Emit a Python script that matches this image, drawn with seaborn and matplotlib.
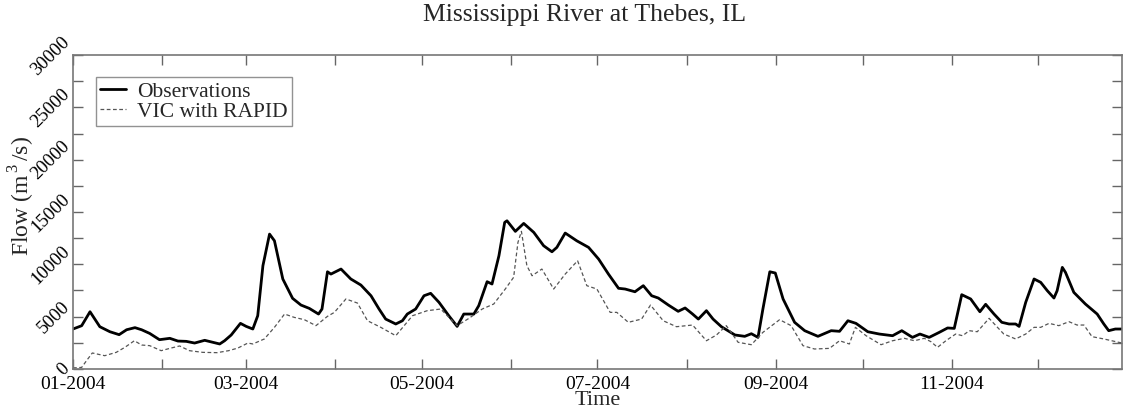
import numpy as np
import pandas as pd
import matplotlib
matplotlib.use("Agg")
import matplotlib.pyplot as plt
import matplotlib.dates as mdates
from matplotlib.ticker import MultipleLocator
import seaborn as sns

title = "Mississippi River at Thebes, IL"
series_names = ["Observations", "VIC with RAPID"]

# days since 2004-01-01 and flow (m3/s)
obs_day = [0, 3, 5.9, 9.3, 12.8, 16, 18.6, 21.5, 23.8, 26.6, 30, 33.6, 36.4, 39.3, 42.2, 45.7,
           48.5, 50.9, 52.6, 54.9, 58.1, 60.1, 62.4, 64.1, 65.9, 68.2, 69.9, 72.8, 76.2, 79.1,
           82, 85.2, 86.4, 88.3, 89.5, 93, 96.4, 99.9, 103.4, 106.2, 108.5, 112, 114.3, 116,
           118.9, 121.8, 124.1, 127, 130.4, 133.3, 135.6, 139.1, 140.8, 143.7, 145.4, 147.8,
           149.8, 150.6, 153.5, 156.4, 159.9, 163.3, 166.2, 167.9, 170.8, 174.8, 178.9, 182.4,
           185.8, 189.3, 191.6, 195, 197.9, 200.8, 203.1, 206.6, 210, 212.4, 215, 217, 219.8,
           222.1, 225, 229.7, 233.1, 235.4, 237.7, 239.4, 241.8, 243.7, 246.4, 250.4, 253.9,
           258.5, 263.1, 266, 268.9, 271.7, 275.8, 279.8, 284.4, 287.6, 291.3, 293.9, 297.1,
           300.6, 303.5, 305.8, 308.4, 311.5, 314.7, 316.7, 319.6, 322.3, 324.8, 327.1, 328.3,
           330.6, 333.5, 335.8, 338.1, 340.4, 341.5, 343.3, 344.4, 347.3, 351.3, 355.4, 357.7,
           359.4, 361.7, 364]
obs_flow = [3820, 4135, 5470, 4040, 3560, 3280, 3750, 3950, 3750, 3400, 2800, 2930, 2670, 2640,
            2480, 2740, 2550, 2390, 2700, 3250, 4360, 4070, 3820, 5090, 9870, 12890, 12250, 8600,
            6750, 6110, 5790, 5250, 5730, 9290, 9070, 9550, 8600, 8020, 7000, 5730, 4770, 4300,
            4610, 5250, 5730, 7000, 7230, 6370, 5090, 4070, 5250, 5250, 6050, 8340, 8120, 10820,
            14010, 14160, 13150, 13910, 13050, 11780, 11200, 11620, 12990, 12250, 11620, 10500,
            9070, 7710, 7640, 7380, 7960, 7000, 6780, 6110, 5510, 5830, 5250, 4770, 5570, 4770,
            4040, 3250, 3120, 3370, 3020, 5730, 9290, 9170, 6690, 4460, 3660, 3120, 3660, 3600,
            4610, 4360, 3560, 3340, 3180, 3660, 3020, 3340, 3020, 3500, 3920, 3880, 7100, 6690,
            5470, 6180, 5250, 4460, 4300, 4300, 4070, 6370, 8600, 8280, 7480, 6780, 7480, 9710,
            9230, 7320, 6210, 5250, 4300, 3660, 3820, 3820]

vic_day = [0, 3, 4.7, 6.7, 11, 15, 18, 21.3, 23.8, 26.6, 30.6, 34, 37, 40.4, 45, 50, 54, 57.2,
           60.7, 62.4, 66.4, 69.9, 73.4, 76.8, 80.3, 84.3, 88.3, 90.7, 94.7, 98.7, 102.2, 106.8,
           112, 117.8, 122.9, 127.6, 133.3, 137.4, 142, 146, 150, 152.9, 154.4, 155.6, 157.5,
           159.3, 162.7, 166.8, 170.8, 175.1, 178.3, 181.8, 186.4, 188.7, 192.7, 197.3, 200.4,
           204.8, 209.4, 215, 219.8, 223.3, 226.7, 230.8, 235.4, 239.4, 245.2, 249.2, 253.3,
           257.3, 262.5, 266, 269.4, 271.5, 275.2, 280.4, 284.4, 288.5, 292, 295.4, 297.7, 300,
           302.9, 306.3, 308.7, 311, 313.8, 317.9, 320.8, 323, 327.1, 330.6, 333.5, 335.8, 338.7,
           342.1, 345.6, 348.4, 350.8, 353.6, 357.7, 364]
vic_flow = [100, 150, 800, 1530, 1270, 1590, 2070, 2700, 2290, 2230, 1750, 2000, 2200, 1750, 1590,
            1560, 1750, 2000, 2480, 2390, 2870, 3980, 5250, 4930, 4710, 4140, 5030, 5410, 6690,
            6300, 4610, 3980, 3180, 5090, 5570, 5730, 4140, 4840, 5730, 6210, 7640, 8760, 12100,
            13150, 9870, 8910, 9550, 7640, 9070, 10340, 7960, 7640, 5410, 5410, 4460, 4770, 6110,
            4610, 4040, 4200, 2700, 3250, 4140, 2550, 2320, 3500, 4710, 4140, 2230, 1910, 1970,
            2700, 2390, 3980, 3180, 2320, 2700, 2930, 2700, 2930, 2610, 2070, 2700, 3340, 3180,
            3660, 3560, 4840, 3980, 3340, 2870, 3340, 3980, 3980, 4360, 4140, 4520, 4200, 4200,
            3090, 2870, 2480]

start = pd.Timestamp("2004-01-01")
df_obs = pd.DataFrame({"Time": start + pd.to_timedelta(obs_day, unit="D"),
                       "Flow": obs_flow, "Series": series_names[0]})
df_vic = pd.DataFrame({"Time": start + pd.to_timedelta(vic_day, unit="D"),
                       "Flow": vic_flow, "Series": series_names[1]})

sns.set_style("ticks")
plt.rcParams["font.family"] = ["Liberation Serif", "DejaVu Serif"]
plt.rcParams["mathtext.fontset"] = "custom"
plt.rcParams["mathtext.rm"] = "Liberation Serif"

fig = plt.figure(figsize=(11.25, 4.14), dpi=100)
ax = fig.add_axes([0.0649, 0.1063, 0.9324, 0.7584])

sns.lineplot(data=df_obs, x="Time", y="Flow", ax=ax, color="black", linewidth=2.0,
             label=series_names[0])
sns.lineplot(data=df_vic, x="Time", y="Flow", ax=ax, color="#555555", linewidth=0.9,
             linestyle=(0, (3, 2)), label=series_names[1])

ax.set_xlim(pd.Timestamp("2004-01-01"), pd.Timestamp("2004-12-30"))
ax.set_ylim(0, 30000)
ax.xaxis.set_major_locator(mdates.MonthLocator(bymonth=[1, 3, 5, 7, 9, 11]))
ax.xaxis.set_minor_locator(mdates.MonthLocator())
ax.xaxis.set_major_formatter(mdates.DateFormatter("%m-%Y"))
ax.yaxis.set_major_locator(MultipleLocator(5000))
ax.yaxis.set_minor_locator(MultipleLocator(2500))
ax.tick_params(which="both", direction="in", top=True, right=True, colors="#666666",
               labelcolor="black")
ax.tick_params(which="major", length=7, width=1)
ax.tick_params(which="minor", length=7, width=1)
ax.tick_params(axis="x", pad=4, labelsize=14)
ax.tick_params(axis="y", pad=0, labelsize=13.5)
for lbl in ax.get_yticklabels():
    lbl.set_rotation(45)
    lbl.set_va("center")
    lbl.set_ha("right")
for sp in ax.spines.values():
    sp.set_color("#777777")
    sp.set_linewidth(1.2)

ax.set_xlabel("Time", fontsize=16)
ax.xaxis.set_label_coords(0.5, -0.068)
ax.set_ylabel(r"Flow (m$^{\,3\,}$/s)", fontsize=17)
ax.yaxis.set_label_coords(-0.034, 0.555)
fig.text(0.52, 0.963, title, ha="center", va="center", fontsize=18.5)

leg = ax.legend(loc="upper left", bbox_to_anchor=(0.022, 0.93), fontsize=15.5, frameon=True,
                fancybox=False, edgecolor="#777777", handlelength=1.2, borderpad=0.2,
                labelspacing=0.0, handletextpad=0.5, borderaxespad=0)
leg.get_frame().set_linewidth(1.0)

fig.savefig("out.png", dpi=100)
